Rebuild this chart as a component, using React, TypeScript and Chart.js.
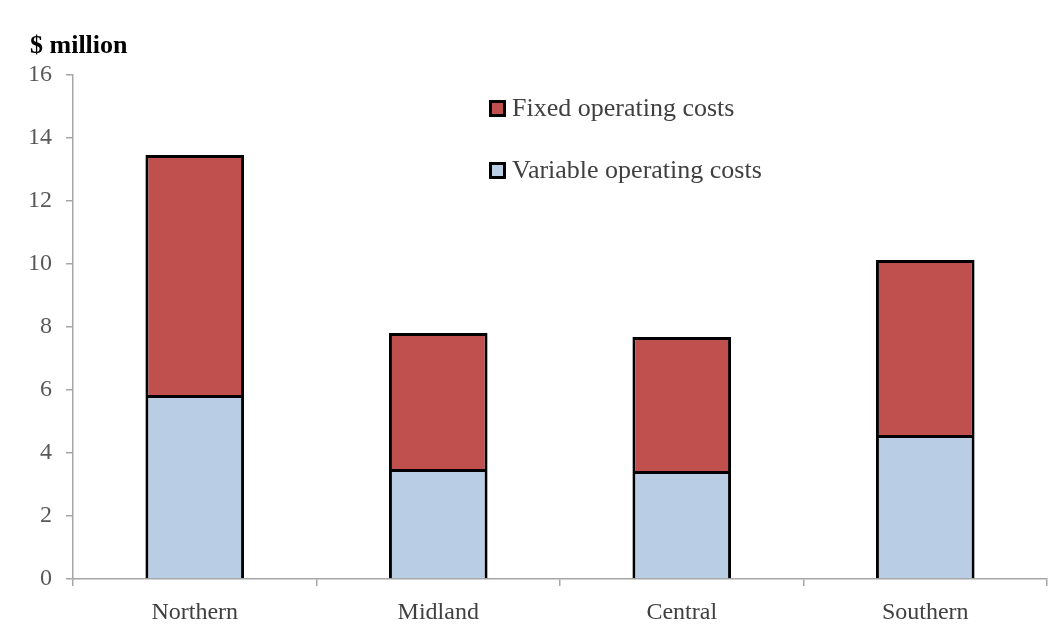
import React, { useEffect, useRef } from "react";
import { Chart, registerables } from "chart.js";

Chart.register(...registerables);

const categories = ["Northern", "Midland", "Central", "Southern"];
const variableCosts = [5.84, 3.49, 3.43, 4.57];
const fixedCosts = [7.62, 4.32, 4.25, 5.56];
const yTicks = [0, 2, 4, 6, 8, 10, 12, 14, 16];
const seriesNames = ["Fixed operating costs", "Variable operating costs"];

const RED = "#C0504D";
const BLUE = "#B9CDE5";
const AXIS = "#A6A6A6";
const FONT = "'Liberation Serif', 'Times New Roman', serif";

export default function App() {
  const ref = useRef<HTMLCanvasElement | null>(null);

  useEffect(() => {
    if (!ref.current) return;
    const chart = new Chart(ref.current, {
      type: "bar",
      data: {
        labels: categories,
        datasets: [
          {
            label: seriesNames[1],
            data: variableCosts,
            backgroundColor: BLUE,
            borderColor: "#000000",
            borderWidth: 3,
            categoryPercentage: 1,
            barPercentage: 0.405,
          },
          {
            label: seriesNames[0],
            data: fixedCosts,
            backgroundColor: RED,
            borderColor: "#000000",
            borderWidth: 3,
            categoryPercentage: 1,
            barPercentage: 0.405,
          },
        ],
      },
      options: {
        animation: false,
        responsive: false,
        maintainAspectRatio: false,
        layout: { padding: { top: 75, right: 7, left: 0, bottom: 0 } },
        plugins: {
          legend: { display: false },
          tooltip: { enabled: false },
          title: { display: false },
        },
        scales: {
          x: {
            stacked: true,
            afterFit: (s: any) => {
              s.height = 50;
            },
            grid: {
              offset: true,
              drawOnChartArea: false,
              drawTicks: true,
              tickLength: 7,
              color: AXIS,
              lineWidth: 1.5,
            },
            border: { color: AXIS, width: 1.5 },
            ticks: {
              color: "#404040",
              font: { family: FONT, size: 24 },
              padding: 12,
            },
          },
          y: {
            stacked: true,
            min: 0,
            max: 16,
            afterFit: (s: any) => {
              s.width = 73;
            },
            afterBuildTicks: (s: any) => {
              s.ticks = yTicks.map((v) => ({ value: v }));
            },
            grid: {
              drawOnChartArea: false,
              drawTicks: true,
              tickLength: 7,
              color: AXIS,
              lineWidth: 1.5,
            },
            border: { color: AXIS, width: 1.5 },
            ticks: {
              color: "#595959",
              font: { family: FONT, size: 24 },
              padding: 14,
            },
          },
        },
      },
    });
    return () => chart.destroy();
  }, []);

  const legendItem = (label: string, color: string, top: number) => (
    <div
      style={{
        position: "absolute",
        left: 489,
        top: top,
        display: "flex",
        alignItems: "center",
        fontFamily: FONT,
        fontSize: 26,
        color: "#404040",
        whiteSpace: "nowrap",
        lineHeight: "28px",
      }}
    >
      <span
        style={{
          display: "inline-block",
          width: 11,
          height: 11,
          background: color,
          border: "3px solid #000",
          marginRight: 6,
        }}
      />
      <span>{label}</span>
    </div>
  );

  return (
    <div
      style={{
        position: "absolute",
        left: 0,
        top: 0,
        width: 1054,
        height: 629,
        background: "#fff",
      }}
    >
      <canvas ref={ref} width={1054} height={629} style={{ display: "block" }} />
      <div
        style={{
          position: "absolute",
          left: 30,
          top: 31,
          fontFamily: FONT,
          fontWeight: "bold",
          fontSize: 26,
          lineHeight: "28px",
          color: "#000",
        }}
      >
        $ million
      </div>
      {legendItem(seriesNames[0], RED, 94)}
      {legendItem(seriesNames[1], BLUE, 156)}
    </div>
  );
}
